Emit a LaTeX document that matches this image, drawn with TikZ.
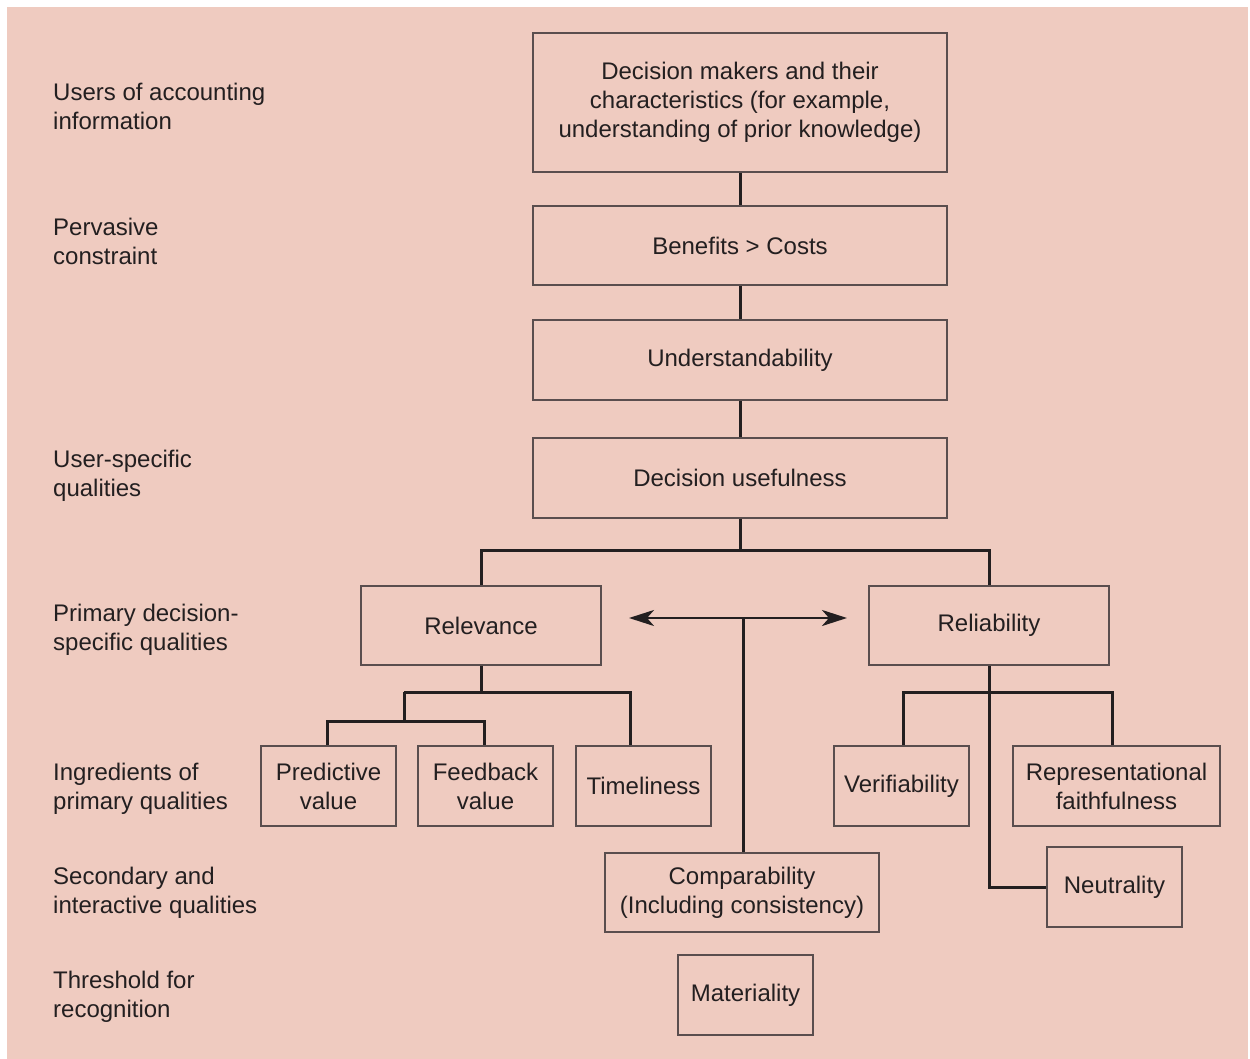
\documentclass[tikz,border=0pt]{standalone}
\usepackage{fontspec}
\setmainfont{Liberation Sans}
\usetikzlibrary{arrows.meta}
\definecolor{bg}{HTML}{EFCBC0}
\definecolor{ink}{HTML}{231F20}
\definecolor{boxline}{HTML}{5A4E4E}
\tikzset{
  box/.style={draw=boxline, line width=1.6pt, text=ink, align=center, inner sep=0pt,
    font=\fontsize{24}{29}\selectfont},
  lab/.style={text=ink, align=left, anchor=west, inner sep=0pt,
    font=\fontsize{24}{29}\selectfont},
  conn/.style={draw=ink, line width=3pt},
  twoarrow/.style={draw=ink, line width=2.6pt, {Stealth[length=25pt,width=16pt,inset=7pt]}-{Stealth[length=25pt,width=16pt,inset=7pt]}}
}
\begin{document}
\begin{tikzpicture}[x=1pt,y=-1pt]
\useasboundingbox (0,0) rectangle (1250,1059);
\fill[white] (0,0) rectangle (1250,1059);
\fill[bg] (7,7) rectangle (1248,1059);

% left labels
\node[lab] (l1) at (53,106) {Users of accounting\\information};
\node[lab] (l2) at (53,241) {Pervasive\\constraint};
\node[lab] (l3) at (53,476) {User-specific\\qualities};
\node[lab] (l4) at (53,630) {Primary decision-\\specific qualities};
\node[lab] (l5) at (53,789) {Ingredients of\\primary qualities};
\node[lab] (l6) at (53,893) {Secondary and\\interactive qualities};
\node[lab] (l7) at (53,997) {Threshold for\\recognition};

% boxes
\node[box, minimum width=414pt, minimum height=139pt] (dm) at (740,102.5) {Decision makers and their\\characteristics (for example,\\understanding of prior knowledge)};
\node[box, minimum width=414pt, minimum height=79pt] (bc) at (740,245.5) {Benefits > Costs};
\node[box, minimum width=414pt, minimum height=80pt] (und) at (740,360) {Understandability};
\node[box, minimum width=414pt, minimum height=80pt] (du) at (740,478) {Decision usefulness};
\node[box, minimum width=240pt, minimum height=79pt] (rel) at (481,625.5) {Relevance};
\node[box, minimum width=240pt, minimum height=79pt] (rli) at (989,625.5) {Reliability};
\node[box, minimum width=135pt, minimum height=80pt] (pv) at (328.5,786) {Predictive\\value};
\node[box, minimum width=135pt, minimum height=80pt] (fv) at (485.5,786) {Feedback\\value};
\node[box, minimum width=135pt, minimum height=80pt] (tim) at (643.5,786) {Timeliness};
\node[box, minimum width=135pt, minimum height=80pt] (ver) at (901.5,786) {Verifiability};
\node[box, minimum width=207pt, minimum height=80pt] (rep) at (1116.5,786) {Representational\\faithfulness};
\node[box, minimum width=135pt, minimum height=80pt] (neu) at (1114.5,887) {Neutrality};
\node[box, minimum width=274pt, minimum height=79pt] (cmp) at (742,892.5) {Comparability\\(Including consistency)};
\node[box, minimum width=135pt, minimum height=80pt] (mat) at (745.5,995) {Materiality};

% junction coordinates
\coordinate (j0) at (740,550);
\coordinate (j1) at (481,692);
\coordinate (j2) at (404,692);
\coordinate (j3) at (404,721);
\coordinate (j4) at (989,692);
\coordinate (j5) at (989,887);
\coordinate (al) at (629,618);
\coordinate (ar) at (847,618);
\coordinate (am) at (743,618);

% connectors
\draw[conn] (dm.south) -- (bc.north);
\draw[conn] (bc.south) -- (und.north);
\draw[conn] (und.south) -- (du.north);
\draw[conn] (du.south) -- (j0);
\draw[conn] (j0) -| (rel.north);
\draw[conn] (j0) -| (rli.north);

\draw[conn] (rel.south) -- (j1);
\draw[conn] (j2) -| ([xshift=-13.5pt]tim.north);
\draw[conn] (j2) -- (j3);
\draw[conn] (j3) -| ([xshift=-1.5pt]pv.north);
\draw[conn] (j3) -| ([xshift=-1.5pt]fv.north);

\draw[conn] (rli.south) -- (j5) -- (neu.west);
\draw[conn] (j4) -| ([xshift=1.5pt]ver.north);
\draw[conn] (j4) -| ([xshift=-4.5pt]rep.north);

\draw[twoarrow] (al) -- (ar);
\draw[conn] (am) -- (cmp.north -| am);
\end{tikzpicture}
\end{document}
